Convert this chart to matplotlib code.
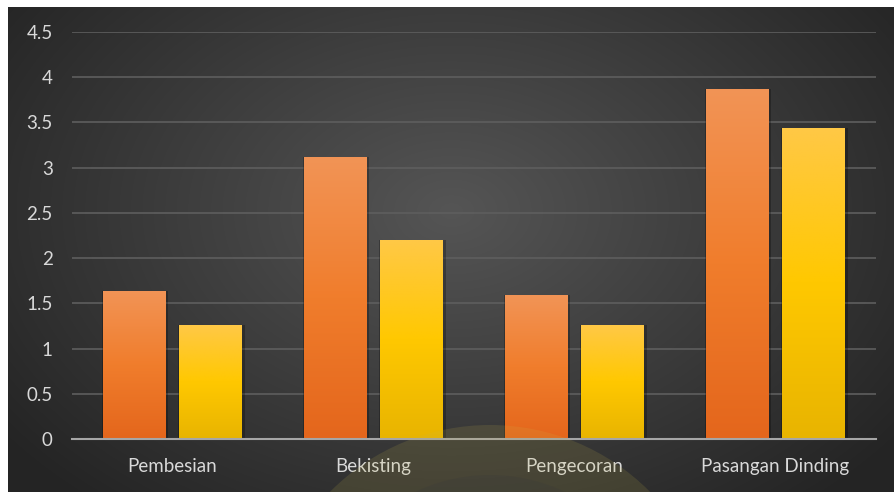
import numpy as np
import matplotlib
matplotlib.use("Agg")
import matplotlib.pyplot as plt
from matplotlib.patches import Circle
from matplotlib.colors import LinearSegmentedColormap

categories = ["Pembesian", "Bekisting", "Pengecoran", "Pasangan Dinding"]
series_a = [1.64, 3.12, 1.59, 3.87]
series_b = [1.26, 2.20, 1.26, 3.44]
yticks = [0, 0.5, 1, 1.5, 2, 2.5, 3, 3.5, 4, 4.5]
ytick_labels = ["0", "0.5", "1", "1.5", "2", "2.5", "3", "3.5", "4", "4.5"]

plt.rcParams['font.family'] = ['Lato', 'DejaVu Sans']

W, H = 894, 492
fig = plt.figure(figsize=(W / 100, H / 100), dpi=100, facecolor='white')

# radial gradient background (white margin on top and left)
L, T = 8, 7
bw, bh = W - L, H - T
bg = fig.add_axes([L / W, 0, bw / W, bh / H], zorder=0)
yy, xx = np.mgrid[0:bh, 0:bw]
cx, cy = bw * 0.5, bh * 0.42
r = np.sqrt(((xx - cx) / (bw * 0.62)) ** 2 + ((yy - cy) / (bh * 0.78)) ** 2)
r = np.clip(r, 0, 1)
inner = np.array([0x55, 0x55, 0x55]) / 255
outer = np.array([0x25, 0x25, 0x25]) / 255
img = inner[None, None, :] * (1 - r[..., None]) + outer[None, None, :] * r[..., None]
bg.imshow(img, extent=[0, 1, 0, 1], aspect='auto', origin='upper')
bg.set_axis_off()

ax = fig.add_axes([71.5 / W, 1 - 439 / H, 804 / W, 407 / H], zorder=1)
ax.patch.set_alpha(0)

x = np.arange(len(categories))
width = 0.31
off = 0.19

cmap_a = LinearSegmentedColormap.from_list("a", ["#e4661c", "#f07d2c", "#f29456"])
cmap_b = LinearSegmentedColormap.from_list("b", ["#e8b400", "#ffc800", "#ffc846"])

grad = np.linspace(0, 1, 256).reshape(-1, 1)

def grad_bars(xs, vals, cmap):
    bars = ax.bar(xs, vals, width=width, color='none', edgecolor='none', zorder=3)
    for b in bars:
        x0, y0 = b.get_x(), b.get_y()
        w, h = b.get_width(), b.get_height()
        # shadow
        ax.bar(x0 + w / 2 + 0.006, h, width=w + 0.02, bottom=0, color='black', alpha=0.25, zorder=2)
        im = ax.imshow(grad, extent=[x0, x0 + w, y0, y0 + h], origin='lower',
                       cmap=cmap, aspect='auto', zorder=3)
        im.set_clip_path(b)
    return bars

grad_bars(x - off, series_a, cmap_a)
grad_bars(x + off, series_b, cmap_b)

ax.set_xlim(-0.5, len(categories) - 0.5)
ax.set_ylim(0, 4.5)
ax.set_yticks(yticks)
ax.set_yticklabels(ytick_labels)
ax.set_xticks(x)
ax.set_xticklabels(categories)
ax.tick_params(axis='both', length=0, colors='#d9d9d9', labelsize=13.5)
ax.tick_params(axis='y', pad=13.5)
ax.tick_params(axis='x', pad=14)
ax.yaxis.grid(True, color='#5e5e5e', linewidth=1.2, zorder=1)
ax.set_axisbelow(True)
for s in ['top', 'right', 'left']:
    ax.spines[s].set_visible(False)
ax.spines['bottom'].set_color('#a6a6a6')
ax.spines['bottom'].set_linewidth(1.5)
ax.spines['bottom'].set_zorder(5)

# faint watermark logo at bottom
wm = fig.add_axes([0, 0, 1, 1], zorder=2)
wm.set_xlim(0, W)
wm.set_ylim(H, 0)
wm.set_axis_off()
wm.patch.set_alpha(0)
wm.add_patch(Circle((490, 650), 225, facecolor='#c9b84a', alpha=0.14, edgecolor='none'))
wm.add_patch(Circle((490, 650), 175, facecolor='#3a3a3a', alpha=0.25, edgecolor='none'))

fig.savefig("out.png", dpi=100, facecolor='white')
